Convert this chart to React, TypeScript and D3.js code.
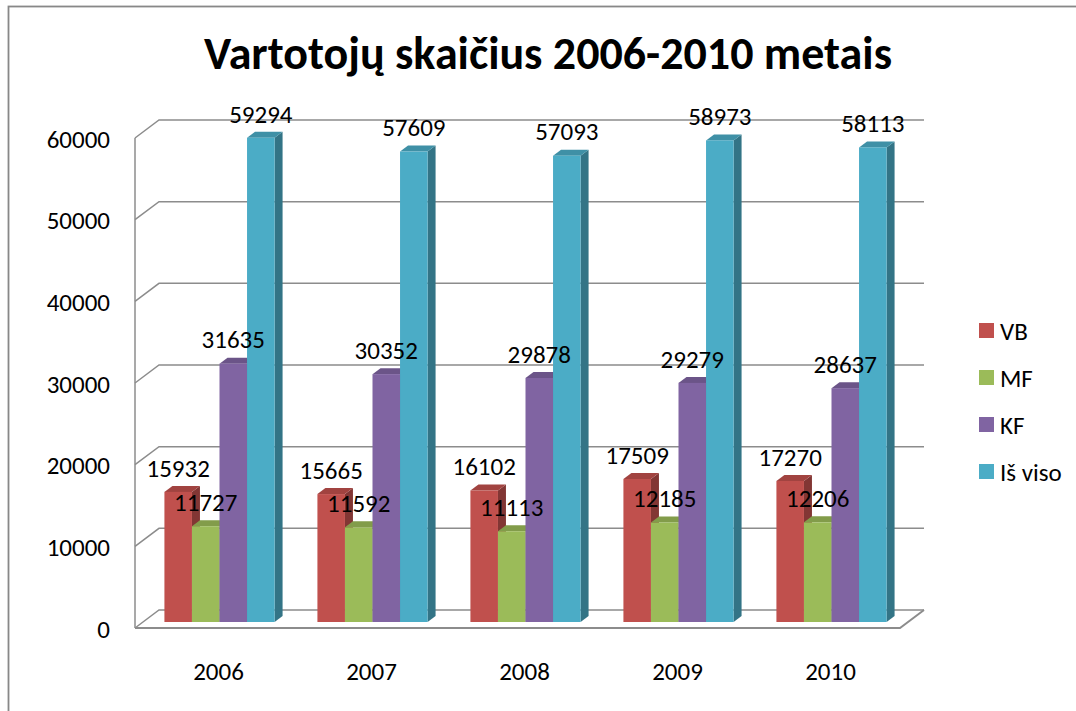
import * as d3 from 'd3';

const years = ['2006', '2007', '2008', '2009', '2010'];
const seriesNames = ['VB', 'MF', 'KF', 'Iš viso'];
const vb = [15932, 15665, 16102, 17509, 17270];
const mf = [11727, 11592, 11113, 12185, 12206];
const kf = [31635, 30352, 29878, 29279, 28637];
const total = [59294, 57609, 57093, 58973, 58113];
const yTicks = [0, 10000, 20000, 30000, 40000, 50000, 60000];
const colors = ['#C0504D', '#9BBB59', '#8064A2', '#4BACC6'];

const W = 1076;
const H = 711;
// oblique depth of the floor / walls
const DX = 24;
const DY = 18;
// bars sit in the middle third of the depth
const Z0 = 1 / 3;
const Z1 = 2 / 3;
const FONT = 'Carlito, Calibri, Lato, sans-serif';

const App = () => {
  const values = [vb, mf, kf, total];

  const x = d3.scaleBand<string>()
    .domain(years)
    .range([135, 900])
    .paddingInner(0.28)
    .paddingOuter(0.14);

  const xs = d3.scaleBand<string>()
    .domain(seriesNames)
    .range([0, x.bandwidth()]);

  const y = d3.scaleLinear().domain([0, 60000]).range([628, 138]);

  const proj = (px: number, v: number, z: number): [number, number] =>
    [px + z * DX, y(v) - z * DY];
  const pts = (arr: [number, number][]) => arr.map(p => p.join(',')).join(' ');

  const x0 = 135;
  const x1 = 900;

  const bars: JSX.Element[] = [];
  const labels: JSX.Element[] = [];
  years.forEach((yr, yi) => {
    seriesNames.forEach((s, si) => {
      const v = values[si][yi];
      const bx0 = (x(yr) ?? 0) + (xs(s) ?? 0);
      const bx1 = bx0 + xs.bandwidth();
      const c = colors[si];
      const side = d3.color(c)!.darker(1.1).formatHex();
      const top = d3.color(c)!.darker(0.5).formatHex();
      const [fx0, fy0] = proj(bx0, v, Z0);
      const [fx1, fy1] = proj(bx1, 0, Z0);
      bars.push(
        <g key={`${yr}-${s}`}>
          <polygon
            points={pts([proj(bx1, 0, Z0), proj(bx1, v, Z0), proj(bx1, v, Z1), proj(bx1, 0, Z1)])}
            fill={side}
          />
          <polygon
            points={pts([proj(bx0, v, Z0), proj(bx1, v, Z0), proj(bx1, v, Z1), proj(bx0, v, Z1)])}
            fill={top}
          />
          <rect x={fx0} y={fy0} width={fx1 - fx0} height={fy1 - fy0} fill={c} />
        </g>
      );
      labels.push(
        <text
          key={`l-${yr}-${s}`}
          x={(fx0 + fx1) / 2}
          y={fy0 - 24}
          dy="0.35em"
          textAnchor="middle"
          fontSize={25}
          fontFamily={FONT}
          fill="#000"
        >
          {v}
        </text>
      );
    });
  });

  const grid = '#8c8c8c';

  return (
    <svg width={W} height={H} style={{ position: 'absolute', left: 0, top: 0, background: '#fff' }}>
      <rect x={8.5} y={6.5} width={W + 20} height={H + 20} fill="#fff" stroke="#888" strokeWidth={1.8} />

      <text x={548} y={69} textAnchor="middle" fontSize={46} fontWeight="bold" fontFamily={FONT} fill="#000">
        Vartotojų skaičius 2006-2010 metais
      </text>

      {/* gridlines on the back and left walls */}
      {yTicks.map(t => {
        const a = proj(x0, t, 0);
        const b = proj(x0, t, 1);
        const c = proj(x1, t, 1);
        return (
          <polyline key={`g-${t}`} points={pts([a, b, c])} fill="none" stroke={grid} strokeWidth={1.5} />
        );
      })}

      {/* floor */}
      <polyline
        points={pts([proj(x0, 0, 0), proj(x1, 0, 0), proj(x1, 0, 1)])}
        fill="none"
        stroke={grid}
        strokeWidth={2}
      />
      <line x1={x0} x2={x0} y1={y(0)} y2={y(60000)} stroke={grid} strokeWidth={1.5} />

      {bars}
      {labels}

      {/* y axis labels */}
      {yTicks.map(t => (
        <text
          key={`yt-${t}`}
          x={110}
          y={y(t) + 1}
          dy="0.35em"
          textAnchor="end"
          fontSize={25}
          fontFamily={FONT}
          fill="#000"
        >
          {t}
        </text>
      ))}

      {/* x axis labels */}
      {years.map(yr => (
        <text
          key={`xt-${yr}`}
          x={(x(yr) ?? 0) + x.bandwidth() / 2 + 7}
          y={671}
          dy="0.35em"
          textAnchor="middle"
          fontSize={25}
          fontFamily={FONT}
          fill="#000"
        >
          {yr}
        </text>
      ))}

      {/* legend */}
      {seriesNames.map((s, i) => (
        <g key={`lg-${s}`} transform={`translate(979, ${323 + i * 47})`}>
          <rect width={15} height={15} fill={colors[i]} />
          <text x={21} y={8} dy="0.35em" fontSize={25} fontFamily={FONT} fill="#000">
            {s}
          </text>
        </g>
      ))}
    </svg>
  );
};

export default App;
